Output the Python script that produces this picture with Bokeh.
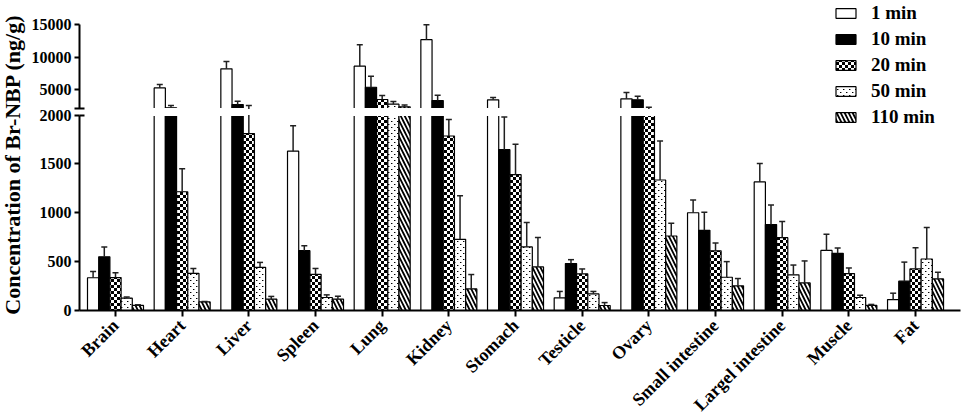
import zlib
import struct
import base64
import numpy as np
from math import pi
from bokeh.plotting import figure
from bokeh.models import (ColumnDataSource, Range1d, LinearAxis, FixedTicker,
                          Legend, LegendItem, Label, ImageURLTexture)
from bokeh.transform import dodge
from bokeh.embed import file_html
from bokeh.resources import INLINE

# ---------------- data ----------------
organs = ["Brain", "Heart", "Liver", "Spleen", "Lung", "Kidney", "Stomach",
          "Testicle", "Ovary", "Small intestine", "Largel intestine", "Muscle", "Fat"]
times = ["1 min", "10 min", "20 min", "50 min", "110 min"]

mean_1 = [335, 5250, 8200, 1630, 8600, 12700, 3400, 130, 3550, 1000, 1315, 615, 112]
err_1 = [65, 520, 1130, 260, 3300, 2300, 360, 65, 1000, 130, 190, 165, 65]
mean_10 = [550, 2170, 2680, 612, 5350, 3300, 1645, 480, 3400, 820, 880, 585, 300]
err_10 = [100, 360, 500, 50, 1700, 820, 335, 40, 560, 185, 200, 55, 195]
mean_20 = [337, 1215, 1810, 370, 3450, 1785, 1390, 375, 2000, 610, 745, 378, 425]
err_20 = [48, 235, 720, 60, 620, 170, 310, 50, 270, 80, 165, 57, 218]
mean_50 = [126, 380, 442, 133, 2730, 728, 650, 170, 1335, 340, 365, 133, 527]
err_50 = [12, 50, 50, 27, 420, 445, 250, 25, 400, 160, 100, 23, 323]
mean_110 = [52, 88, 116, 116, 2320, 221, 446, 51, 762, 252, 282, 52, 323]
err_110 = [6, 5, 28, 30, 300, 147, 300, 30, 130, 75, 225, 10, 68]

means = [mean_1, mean_10, mean_20, mean_50, mean_110]
errs = [err_1, err_10, err_20, err_50, err_110]

BREAK = 2000
UPPER_TOP = 15000
lower_ticks = [0, 500, 1000, 1500, 2000]
upper_ticks = [5000, 10000, 15000]
y_title = "Concentration of Br-NBP (ng/g)"

# ---------------- layout / style (pixels) ----------------
W, H = 964, 417
BOTTOM_Y = 310.0        # y = 0
LOWER_TOP_Y = 114.5     # lower segment top (2000)
UPPER_BASE_Y = 108.4    # upper segment base (2000)
UPPER_TOP_Y = 24.3      # 15000
AXIS_X = 79.0
FIRST_CAT_X = 115.0
PX_PER_CAT = 66.67
XAXIS_END_X = 960.0

lo_k = BREAK / (BOTTOM_Y - LOWER_TOP_Y)          # data units per px (lower)
lower_start = -(H - BOTTOM_Y) * lo_k
lower_end = BOTTOM_Y * lo_k
up_k = (UPPER_TOP - BREAK) / (UPPER_BASE_Y - UPPER_TOP_Y)
upper_start = BREAK - (H - UPPER_BASE_Y) * up_k
upper_end = UPPER_TOP + UPPER_TOP_Y * up_k

XL = (0 - FIRST_CAT_X) / PX_PER_CAT
XR = (W - FIRST_CAT_X) / PX_PER_CAT
X0 = (AXIS_X - FIRST_CAT_X) / PX_PER_CAT
X1 = (XAXIS_END_X - FIRST_CAT_X) / PX_PER_CAT

BAR_W = 11.2 / PX_PER_CAT
CAP_W = 6.0 / PX_PER_CAT
offsets = [(k - 2) * BAR_W for k in range(5)]
FONT = "Liberation Serif"


def png_url(pixel):
    """Tiny RGBA PNG tile as data URL; pixel(x, y) -> (r, g, b, a)."""
    n = 6
    raw = b"".join(b"\x00" + bytes(c for x in range(n) for c in pixel(x, y)) for y in range(n))

    def chunk(t, d):
        return struct.pack(">I", len(d)) + t + d + struct.pack(">I", zlib.crc32(t + d) & 0xffffffff)

    png = (b"\x89PNG\r\n\x1a\n" + chunk(b"IHDR", struct.pack(">IIBBBBB", n, n, 8, 6, 0, 0, 0))
           + chunk(b"IDAT", zlib.compress(raw)) + chunk(b"IEND", b""))
    return "data:image/png;base64," + base64.b64encode(png).decode()


BLACK = (0, 0, 0, 255)
WHITE = (255, 255, 255, 255)
checker = ImageURLTexture(url=png_url(lambda x, y: BLACK if (x // 3 + y // 3) % 2 == 0 else WHITE))
dots = ImageURLTexture(url=png_url(
    lambda x, y: BLACK if (x, y) in ((1, 1), (4, 4)) else ((150, 150, 150, 255) if (x, y) in ((2, 1), (5, 4)) else WHITE)))

styles = [
    dict(fill_color="white"),
    dict(fill_color="black"),
    dict(fill_color="white", hatch_pattern=dict(value="v"), hatch_extra={"v": checker}),
    dict(fill_color="white", hatch_pattern=dict(value=">"), hatch_extra={">": dots}),
    dict(fill_color="white", hatch_pattern="\\", hatch_color="black",
         hatch_scale=8, hatch_weight=1.8),
]

p = figure(width=W, height=H, x_range=Range1d(XL, XR), y_range=Range1d(lower_start, lower_end),
           output_backend="svg", toolbar_location=None, y_axis_location=None,
           min_border_left=0, min_border_top=0, min_border_right=0, min_border_bottom=0)
p.extra_y_ranges = {"upper": Range1d(upper_start, upper_end)}
p.outline_line_color = None
p.grid.visible = False

idx = list(range(len(organs)))
nan = np.nan
lo_renderers = []
for k in range(5):
    m = np.array(means[k], dtype=float)
    e = np.array(errs[k], dtype=float)
    tip = m + e
    src = ColumnDataSource(data=dict(
        x=idx,
        lo=np.minimum(m, BREAK),
        hi=np.where(m > BREAK, m, nan),
        slo0=np.where(m < BREAK, m, nan),
        slo1=np.where(m < BREAK, np.minimum(tip, BREAK), nan),
        shi0=np.where(tip > BREAK, np.maximum(m, BREAK), nan),
        shi1=np.where(tip > BREAK, tip, nan),
        clo=np.where(tip <= BREAK, tip, nan),
        chi=np.where(tip > BREAK, tip, nan),
    ))
    xs = dodge("x", offsets[k], range=p.x_range)
    st = dict(line_color="black", line_width=1.2, **styles[k])
    r = p.vbar(x=xs, width=BAR_W, bottom=0, top="lo", source=src, **st)
    p.vbar(x=xs, width=BAR_W, bottom=BREAK, top="hi", source=src, y_range_name="upper", **st)
    lo_renderers.append((r, src, k))

# white strip hiding the break region
p.quad(left=[X0], right=[X1], bottom=[BREAK - lo_k],
       top=[BREAK + (LOWER_TOP_Y - UPPER_BASE_Y + 1) * lo_k],
       fill_color="white", line_color=None)

# error bars (upper side only)
for r, src, k in lo_renderers:
    xs = dodge("x", offsets[k], range=p.x_range)
    xl = dodge("x", offsets[k] - CAP_W / 2, range=p.x_range)
    xr = dodge("x", offsets[k] + CAP_W / 2, range=p.x_range)
    es = dict(line_color="#202020", line_width=1.5)
    p.segment(x0=xs, x1=xs, y0="slo0", y1="slo1", source=src, **es)
    p.segment(x0=xs, x1=xs, y0="shi0", y1="shi1", source=src, y_range_name="upper", **es)
    p.segment(x0=xl, x1=xr, y0="clo", y1="clo", source=src, **es)
    p.segment(x0=xl, x1=xr, y0="chi", y1="chi", source=src, y_range_name="upper", **es)


def yaxis(rng, ticks, bounds, labels=True, tick_in=0, tick_out=5, line=True):
    ax = LinearAxis(y_range_name=rng, ticker=FixedTicker(ticks=ticks), bounds=bounds,
                    fixed_location=X0)
    ax.axis_line_width = 2
    ax.axis_line_color = "black" if line else None
    ax.major_tick_line_width = 2
    ax.major_tick_in = tick_in
    ax.major_tick_out = tick_out
    ax.minor_tick_line_color = None
    ax.major_label_standoff = 3
    ax.major_label_text_font = FONT
    ax.major_label_text_font_style = "bold"
    ax.major_label_text_font_size = "16px"
    ax.major_label_text_color = "black" if labels else None
    p.add_layout(ax, "left")


yaxis("default", lower_ticks, (0, BREAK))
yaxis("upper", upper_ticks, (BREAK, UPPER_TOP))
yaxis("upper", [BREAK], (BREAK, UPPER_TOP), labels=False, tick_in=5, tick_out=5, line=False)
yaxis("default", [BREAK], (0, BREAK), labels=False, tick_in=5, tick_out=0, line=False)

xa = p.xaxis[0]
xa.fixed_location = 0
xa.ticker = FixedTicker(ticks=idx)
xa.bounds = (X0, X1)
xa.major_label_overrides = {i: name for i, name in zip(idx, organs)}
xa.major_label_orientation = pi / 4
xa.axis_line_width = 2
xa.major_tick_line_width = 2
xa.major_tick_out = 6
xa.major_tick_in = 0
xa.minor_tick_line_color = None
xa.major_label_standoff = 6
xa.major_label_text_font = FONT
xa.major_label_text_font_style = "bold"
xa.major_label_text_font_size = "18px"
xa.major_label_text_color = "black"

p.add_layout(Label(x=12, y=H - 164, x_units="screen", y_units="screen", text=y_title,
                   angle=pi / 2, text_align="center", text_baseline="middle",
                   text_font=FONT, text_font_style="bold", text_font_size="22px",
                   text_color="black"))

legend = Legend(items=[LegendItem(label=t, renderers=[r]) for t, (r, _, _) in zip(times, lo_renderers)],
                location=(833, H - 127.5), glyph_width=25, glyph_height=12, label_height=12,
                label_standoff=13, spacing=4, padding=0, margin=0,
                label_text_font=FONT, label_text_font_style="bold", label_text_font_size="19px",
                label_text_color="black",
                border_line_color=None, background_fill_alpha=0)
p.add_layout(legend)

open("out.html", "w").write(file_html(p, INLINE))
